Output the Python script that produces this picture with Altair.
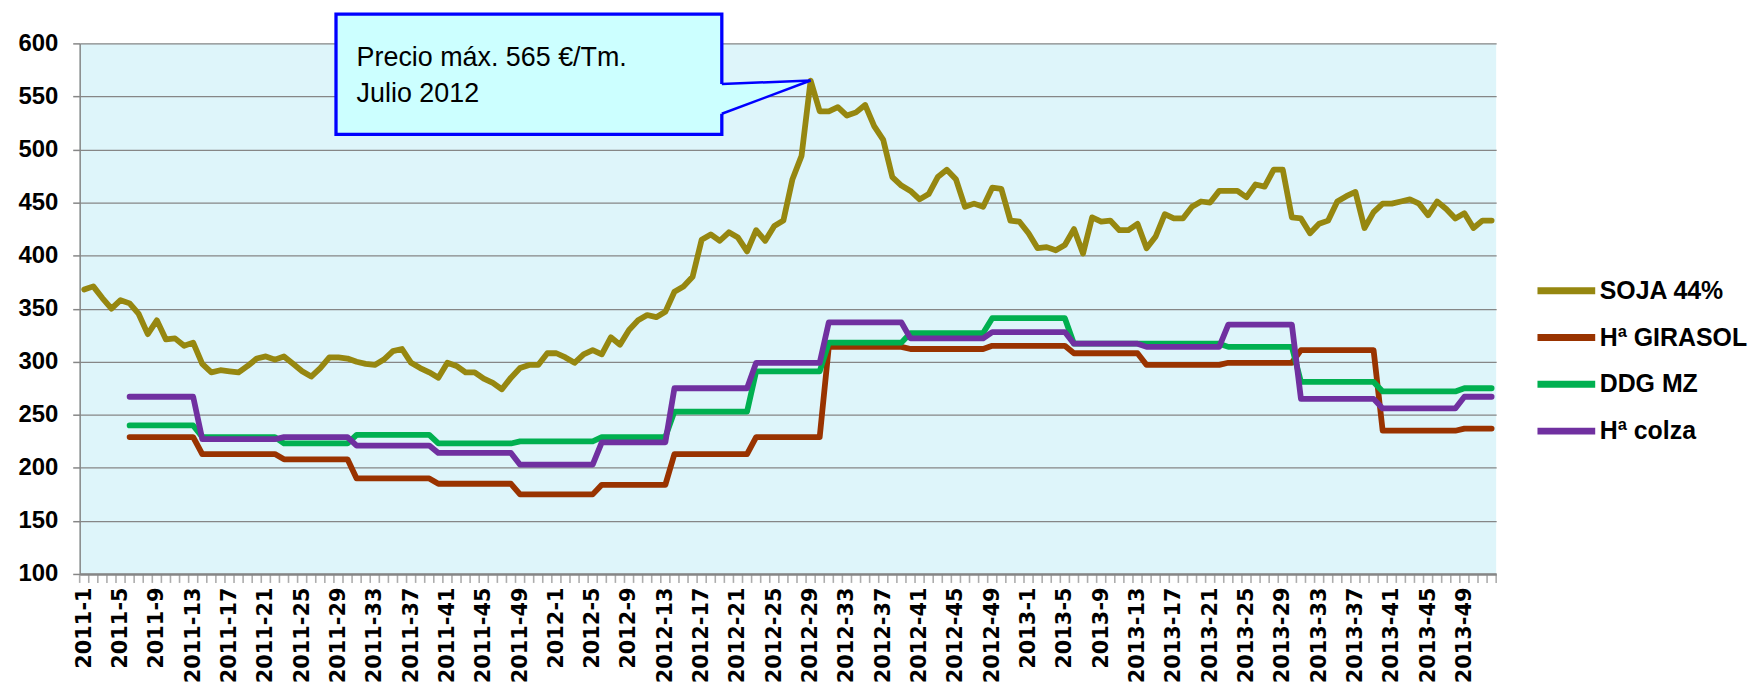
import json
import altair as alt
import pandas as pd

# ---------------- data ----------------
weeks = [f"{y}-{w}" for y in (2011, 2012, 2013) for w in range(1, 53)]
tick_labels = [wk if k % 4 == 0 else "" for k, wk in enumerate(weeks)]

series_names = ["SOJA 44%", "Hª GIRASOL", "DDG MZ", "Hª colza"]
series_colors = ["#968710", "#993300", "#00B050", "#7030A0"]

soja = [
    368, 371, 360, 350, 358, 355, 345, 326, 339, 321, 322, 315, 318,
    298, 290, 292, 291, 290, 296, 303, 305, 302, 305, 298, 291, 286,
    294, 304, 304, 303, 300, 298, 297, 302, 310, 312, 299, 294, 290,
    285, 299, 296, 290, 290, 284, 280, 274, 285, 294, 297, 297, 308,
    308, 304, 299, 307, 311, 307, 323, 316, 330, 339, 344, 342, 347,
    366, 371, 380, 415, 420, 414, 422, 417, 404, 424, 414, 428, 433,
    472, 494, 565, 536, 536, 540, 532, 535, 542, 522, 509, 474, 466,
    461, 453, 458, 474, 481, 472, 446, 449, 446, 464, 463, 433, 432,
    421, 407, 408, 405, 410, 425, 402, 436, 432, 433, 424, 424, 430,
    407, 418, 439, 435, 435, 446, 451, 450, 461, 461, 461, 455, 467,
    465, 481, 481, 436, 435, 421, 430, 433, 451, 456, 460, 426, 441,
    449, 449, 451, 453, 449, 438, 451, 444, 435, 440, 426, 433, 433,
]

girasol = [
    None, None, None, None, None,
    229, 229, 229, 229, 229, 229, 229, 229,
    213, 213, 213, 213, 213, 213, 213, 213, 213,
    208, 208, 208, 208, 208, 208, 208, 208,
    190, 190, 190, 190, 190, 190, 190, 190, 190,
    185, 185, 185, 185, 185, 185, 185, 185, 185,
    175, 175, 175, 175, 175, 175, 175, 175, 175,
    184, 184, 184, 184, 184, 184, 184, 184,
    213, 213, 213, 213, 213, 213, 213, 213, 213,
    229, 229, 229, 229, 229, 229, 229, 229,
    314, 314, 314, 314, 314, 314, 314, 314, 314,
    312, 312, 312, 312, 312, 312, 312, 312, 312,
    315, 315, 315, 315, 315, 315, 315, 315, 315,
    308, 308, 308, 308, 308, 308, 308, 308,
    297, 297, 297, 297, 297, 297, 297, 297, 297,
    299, 299, 299, 299, 299, 299, 299, 299,
    311, 311, 311, 311, 311, 311, 311, 311, 311,
    235, 235, 235, 235, 235, 235, 235, 235, 235,
    237, 237, 237, 237,
]

ddg = [
    None, None, None, None, None,
    240, 240, 240, 240, 240, 240, 240, 240,
    229, 229, 229, 229, 229, 229, 229, 229, 229,
    223, 223, 223, 223, 223, 223, 223, 223,
    231, 231, 231, 231, 231, 231, 231, 231, 231,
    223, 223, 223, 223, 223, 223, 223, 223, 223,
    225, 225, 225, 225, 225, 225, 225, 225, 225,
    229, 229, 229, 229, 229, 229, 229, 229,
    253, 253, 253, 253, 253, 253, 253, 253, 253,
    291, 291, 291, 291, 291, 291, 291, 291,
    318, 318, 318, 318, 318, 318, 318, 318, 318,
    327, 327, 327, 327, 327, 327, 327, 327, 327,
    341, 341, 341, 341, 341, 341, 341, 341, 341,
    317, 317, 317, 317, 317, 317, 317, 317,
    317, 317, 317, 317, 317, 317, 317, 317, 317,
    314, 314, 314, 314, 314, 314, 314, 314,
    281, 281, 281, 281, 281, 281, 281, 281, 281,
    272, 272, 272, 272, 272, 272, 272, 272, 272,
    275, 275, 275, 275,
]

colza = [
    None, None, None, None, None,
    267, 267, 267, 267, 267, 267, 267, 267,
    227, 227, 227, 227, 227, 227, 227, 227, 227,
    229, 229, 229, 229, 229, 229, 229, 229,
    221, 221, 221, 221, 221, 221, 221, 221, 221,
    214, 214, 214, 214, 214, 214, 214, 214, 214,
    203, 203, 203, 203, 203, 203, 203, 203, 203,
    224, 224, 224, 224, 224, 224, 224, 224,
    275, 275, 275, 275, 275, 275, 275, 275, 275,
    299, 299, 299, 299, 299, 299, 299, 299,
    337, 337, 337, 337, 337, 337, 337, 337, 337,
    322, 322, 322, 322, 322, 322, 322, 322, 322,
    328, 328, 328, 328, 328, 328, 328, 328, 328,
    317, 317, 317, 317, 317, 317, 317, 317,
    314, 314, 314, 314, 314, 314, 314, 314, 314,
    335, 335, 335, 335, 335, 335, 335, 335,
    265, 265, 265, 265, 265, 265, 265, 265, 265,
    256, 256, 256, 256, 256, 256, 256, 256, 256,
    267, 267, 267, 267,
]

# callout annotation (data coordinates: week index / price)
callout_text = ["Precio máx. 565 €/Tm.", "Julio 2012"]
callout_text_x = [30.0, 30.0]
callout_text_y = [578.4, 545.0]
callout_box = {"x": 27.73, "x2": 70.22, "y": 627.5, "y2": 514.3}
peak_week = 80
peak_price = 565
pointer_base = [561.8, 533.7]

# ---------------- build ----------------
n = len(weeks)
rows = []
for name, vals in zip(series_names, [soja, girasol, ddg, colza]):
    for i, v in enumerate(vals):
        if v is not None:
            rows.append({"idx": i, "semana": weeks[i], "serie": name, "precio": v})
df = pd.DataFrame(rows)

W, H = 1423, 533

label_expr = json.dumps(tick_labels) + "[datum.value] || ''"

x_scale = alt.Scale(domain=[-0.5, n - 0.5], nice=False, zero=False)
y_scale = alt.Scale(domain=[100, 600], nice=False, zero=False)

x_axis = alt.Axis(
    values=[k for k in range(0, n, 4)],
    labelExpr=label_expr,
    labelAngle=-90,
    labelAlign="right",
    labelBaseline="middle",
    labelOverlap=False,
    labelFlush=False,
    labelBound=False,
    labelFont="DejaVu Sans",
    labelFontWeight="bold",
    labelFontSize=21,
    labelColor="black",
    labelPadding=13,
    ticks=False,
    domainColor="#868686",
    domainWidth=2.5,
    grid=False,
)
y_axis = alt.Axis(
    values=list(range(100, 601, 50)),
    labelFont="Liberation Sans",
    labelFontWeight="bold",
    labelFontSize=24,
    labelColor="black",
    labelPadding=15,
    labelOverlap=False,
    tickSize=7,
    tickWidth=1.5,
    tickColor="#868686",
    domainColor="#868686",
    domainWidth=1.5,
    grid=True,
    gridColor="#868686",
    gridWidth=1.3,
)
# every layer uses the same scale and axis definitions
x_enc = alt.X("idx:Q", title=None, scale=x_scale, axis=x_axis)
y_enc = alt.Y("precio:Q", title=None, scale=y_scale, axis=y_axis)

color_enc = alt.Color(
    "serie:N",
    scale=alt.Scale(domain=series_names, range=series_colors),
    legend=alt.Legend(
        title=None,
        orient="none",
        legendX=1461,
        legendY=216,
        padding=0,
        symbolType="stroke",
        symbolSize=3364,
        symbolStrokeWidth=7,
        labelFont="Liberation Sans",
        labelFontWeight="bold",
        labelFontSize=25,
        labelColor="black",
        labelOffset=1,
        labelLimit=400,
        rowPadding=-2.5,
        labelExpr="datum.label == 'SOJA 44%' ? '\u00a0SOJA 44%' : datum.label",
    ),
)

base = alt.Chart(df)
line_layers = [
    base.transform_filter(alt.datum.serie == s)
    .mark_line(strokeWidth=5.8, strokeJoin="round", strokeCap="round")
    .encode(x=x_enc, y=y_enc, color=color_enc)
    for s in series_names
]

# category boundary tick marks on the x axis (Excel style)
bounds_df = pd.DataFrame({"idx": [k - 0.5 for k in range(n + 1)], "precio": [100] * (n + 1)})
cat_ticks = alt.Chart(bounds_df).mark_tick(
    orient="vertical", size=8, thickness=1.6, color="#8a8a8a", yOffset=5
).encode(x=x_enc, y=y_enc)

box_df = pd.DataFrame([{"idx": callout_box["x"], "idx2": callout_box["x2"],
                        "precio": callout_box["y"], "precio2": callout_box["y2"]}])
box = alt.Chart(box_df).mark_rect(fill="#CCFFFF", stroke="#0000FF", strokeWidth=3.3).encode(
    x=x_enc, x2="idx2:Q", y=y_enc, y2="precio2:Q"
)

ptr_df = pd.DataFrame([
    {"idx": callout_box["x2"] - 0.3, "precio": pointer_base[0], "precio2": pointer_base[1]},
    {"idx": callout_box["x2"], "precio": pointer_base[0], "precio2": pointer_base[1]},
    {"idx": peak_week, "precio": peak_price, "precio2": peak_price},
])
ptr_fill = alt.Chart(ptr_df).mark_area(fill="#CCFFFF", opacity=1).encode(
    x=x_enc, y=y_enc, y2="precio2:Q"
)

edge_df = pd.DataFrame([
    {"idx": callout_box["x2"], "precio": pointer_base[0], "idx2": peak_week, "precio2": peak_price},
    {"idx": callout_box["x2"], "precio": pointer_base[1], "idx2": peak_week, "precio2": peak_price},
])
ptr_edges = alt.Chart(edge_df).mark_rule(color="#0000FF", strokeWidth=2.5).encode(
    x=x_enc, y=y_enc, x2="idx2:Q", y2="precio2:Q"
)

txt_df = pd.DataFrame({"idx": callout_text_x, "precio": callout_text_y, "t": callout_text})
txt = alt.Chart(txt_df).mark_text(
    align="left", baseline="alphabetic", font="Liberation Sans", fontSize=27, color="black"
).encode(x=x_enc, y=y_enc, text="t:N")

chart = (
    alt.layer(*line_layers, cat_ticks, box, ptr_fill, ptr_edges, txt)
    .properties(
        width=W,
        height=H,
        padding={"left": 72, "top": 34, "right": 255, "bottom": 110},
        autosize=alt.AutoSizeParams(type="none"),
    )
    .configure_view(fill="#DEF5FA", stroke=None)
    .configure_axisX(labelOverlap=False)
)

chart.save("out.html", embed_options={"renderer": "svg", "actions": False})
